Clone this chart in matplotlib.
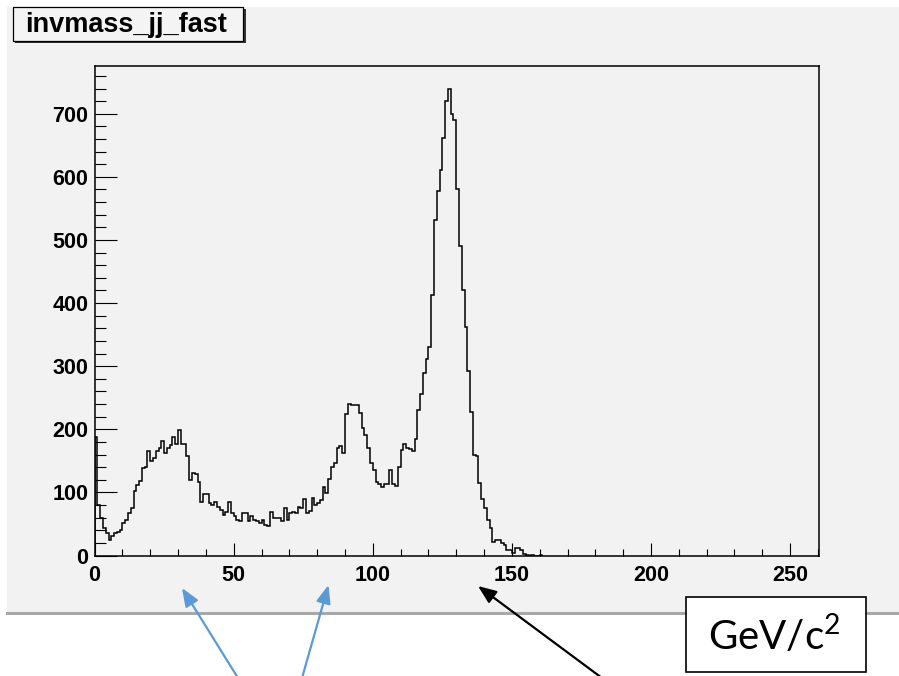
import numpy as np
import matplotlib
matplotlib.use('Agg')
import matplotlib.pyplot as plt
from matplotlib.patches import Rectangle, FancyArrowPatch
from matplotlib.lines import Line2D
from matplotlib.ticker import MultipleLocator

# invariant mass of the jj pair, 1 GeV bins starting at 0
mass_low = 0.0
bin_width = 1.0
counts = [
    188, 80, 60, 44, 36, 25, 31, 35, 38, 40,
    51, 57, 68, 75, 102, 112, 118, 138, 141, 166,
    150, 155, 166, 171, 182, 162, 170, 175, 188, 177,
    199, 177, 177, 157, 120, 130, 129, 117, 85, 98,
    98, 83, 80, 84, 77, 72, 64, 69, 84, 68,
    62, 57, 55, 67, 68, 54, 63, 57, 54, 51,
    57, 48, 47, 69, 60, 59, 60, 55, 75, 56,
    67, 69, 68, 77, 75, 90, 67, 70, 91, 80,
    83, 88, 109, 99, 122, 141, 146, 170, 173, 162,
    224, 240, 239, 239, 239, 226, 202, 191, 170, 146,
    136, 117, 114, 109, 114, 114, 136, 113, 110, 140,
    167, 177, 170, 168, 165, 184, 230, 256, 289, 311,
    331, 413, 532, 577, 611, 661, 721, 739, 700, 690,
    580, 490, 420, 362, 292, 228, 160, 158, 115, 90,
    75, 56, 43, 22, 25, 24, 20, 17, 9, 9,
    4, 12, 12, 8, 3, 1, 0, 1, 0, 0,
    1,
]
x_ticks = [0, 50, 100, 150, 200, 250]
y_ticks = [0, 100, 200, 300, 400, 500, 600, 700]
hist_title = "invmass_jj_fast"
unit_label = "GeV/c$^{\\mathregular{2}}$"

plt.rcParams['font.family'] = ['Liberation Sans', 'DejaVu Sans']

W, H = 899, 676


def fxy(px, py):
    # pixel position (from top left) -> figure fraction
    return px / W, 1 - py / H


fig = plt.figure(figsize=(W / 100, H / 100), dpi=100)
fig.patch.set_facecolor('white')

# grey canvas with its shaded lower edge
x0, y0 = fxy(7, 613)
fig.add_artist(Rectangle((x0, y0), 1 - x0, (613 - 7) / H, transform=fig.transFigure,
                         facecolor='#f2f2f2', edgecolor='none', zorder=-10))
fig.add_artist(Line2D([x0, 1], [y0, y0], transform=fig.transFigure,
                      color='#a8a8a8', lw=2.2, zorder=-9))

# histogram pad
ax = fig.add_axes([94.6 / W, 1 - 555.5 / H, (819 - 94.6) / W, (555.5 - 66) / H])
ax.set_facecolor('#f2f2f2')
edges = mass_low + bin_width * np.arange(len(counts) + 1)
ax.stairs(counts, edges, color='black', lw=1.1, baseline=0)
ax.set_xlim(0, 260.4)
ax.set_ylim(0, 775.7)

ax.set_xticks(x_ticks)
ax.set_yticks(y_ticks)
ax.xaxis.set_minor_locator(MultipleLocator(10))
ax.yaxis.set_minor_locator(MultipleLocator(20))
ax.tick_params(which='both', direction='in', top=False, right=False, width=0.8,
               labelsize=15.5)
ax.tick_params(axis='x', which='major', length=9.4, pad=6.5)
ax.tick_params(axis='x', which='minor', length=4.8)
ax.tick_params(axis='y', which='major', length=15.6, pad=4.5)
ax.tick_params(axis='y', which='minor', length=7.9)
for lbl in ax.get_xticklabels() + ax.get_yticklabels():
    lbl.set_fontweight('bold')
for sp in ax.spines.values():
    sp.set_linewidth(1.1)

# title box with shadow
sx, sy = fxy(14.5, 42.5)
fig.add_artist(Rectangle((sx, sy), (245.5 - 14.5) / W, (42.5 - 9) / H,
                         transform=fig.transFigure, facecolor='#333333',
                         edgecolor='none', zorder=5))
tx, ty = fxy(12.5, 40.5)
fig.add_artist(Rectangle((tx, ty), (243 - 12.5) / W, (40.5 - 7) / H,
                         transform=fig.transFigure, facecolor='#f4f4f4',
                         edgecolor='black', lw=0.9, zorder=6))
fig.text(*fxy(25, 32), hist_title, fontsize=19.5, fontweight='bold',
         va='baseline', ha='left', zorder=7)

# unit box
ux, uy = fxy(686, 672)
fig.add_artist(Rectangle((ux, uy), 180 / W, 75 / H, transform=fig.transFigure,
                         facecolor='white', edgecolor='black', lw=1.2, zorder=6))
fig.text(*fxy(774, 636), unit_label, family='Lato', fontsize=29,
         ha='center', va='center', zorder=7)

# annotation arrows
arrows = [((238, 678), (182, 588), '#5b9bd5'),
          ((302, 678), (328.5, 585), '#5b9bd5'),
          ((602, 678), (478, 586), 'black')]
for tail, tip, col in arrows:
    fig.add_artist(FancyArrowPatch(fxy(*tail), fxy(*tip), transform=fig.transFigure,
                                   arrowstyle='-|>,head_length=0.55,head_width=0.22',
                                   mutation_scale=20, color=col, lw=1.6,
                                   shrinkA=0, shrinkB=0, zorder=10))

fig.savefig('out.png', dpi=100)
